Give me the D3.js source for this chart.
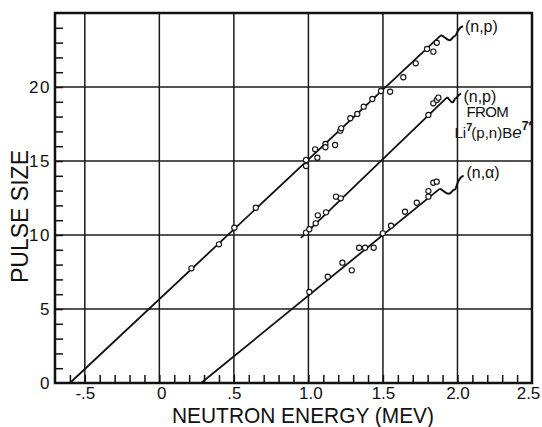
<!DOCTYPE html>
<html>
<head>
<meta charset="utf-8">
<script src="https://cdn.jsdelivr.net/npm/d3@7"></script>
<style>
  html, body { margin: 0; padding: 0; background: #fff; }
  svg { display: block; }
  text { font-family: "Liberation Sans", Arial, sans-serif; fill: #111; }
</style>
</head>
<body>
<svg id="chart" width="542" height="427"></svg>
<script>
// ---------- data ----------
const xTickValues = [-0.5, 0, 0.5, 1.0, 1.5, 2.0, 2.5];
const xTickLabels = ["-.5", "0", ".5", "1.0", "1.5", "2.0", "2.5"];
const yTickValues = [0, 5, 10, 15, 20];
const yTickLabels = ["0", "5", "10", "15", "20"];

// (n,p) points
const npX = [0.215, 0.40, 0.503, 0.647, 0.984, 0.984, 1.045, 1.06, 1.114, 1.114, 1.179, 1.214, 1.22, 1.281, 1.328, 1.371, 1.429, 1.487, 1.548, 1.637, 1.72, 1.796, 1.838, 1.861];
const npY = [7.75, 9.37, 10.49, 11.84, 15.07, 14.66, 15.79, 15.22, 16.15, 15.93, 16.08, 17.05, 17.21, 17.89, 18.18, 18.67, 19.19, 19.73, 19.68, 20.66, 21.6, 22.57, 22.39, 22.99];

// (n,p) from Li7(p,n)Be7* points
const liX = [0.984, 1.006, 1.049, 1.063, 1.118, 1.185, 1.217, 1.805, 1.838, 1.861, 1.872];
const liY = [10.16, 10.39, 10.79, 11.33, 11.53, 12.59, 12.48, 18.11, 18.9, 19.12, 19.28];

// (n,alpha) points
const naX = [1.006, 1.13, 1.228, 1.291, 1.34, 1.38, 1.438, 1.499, 1.554, 1.648, 1.727, 1.805, 1.805, 1.838, 1.861];
const naY = [6.15, 7.18, 8.13, 7.61, 9.14, 9.14, 9.14, 10.11, 10.63, 11.57, 12.18, 12.59, 12.97, 13.53, 13.6];

// fitted straight lines [x0, y0, x1, y1]
const npLine = [-0.6, 0, 1.89, 23.5];
const liLine = [0.95, 9.8, 1.93, 19.3];
const naLine = [0.28, 0, 1.88, 13.12];

// ---------- layout ----------
const svg = d3.select("#chart");
const L = 55, R = 532, T = 13, B = 383;
const x = d3.scaleLinear().domain([-0.7, 2.5]).range([L, R]);
const y = d3.scaleLinear().domain([0, 25]).range([B, T]);

svg.append("rect").attr("width", 542).attr("height", 427).attr("fill", "#fff");

// grid lines
svg.append("g")
  .selectAll("line").data(xTickValues.filter(v => v > -0.7 && v < 2.5))
  .join("line")
  .attr("x1", d => x(d)).attr("x2", d => x(d))
  .attr("y1", T).attr("y2", B)
  .attr("stroke", "#1a1a1a").attr("stroke-width", 1.5);
svg.append("g")
  .selectAll("line").data(yTickValues.filter(v => v > 0))
  .join("line")
  .attr("x1", L).attr("x2", R)
  .attr("y1", d => y(d)).attr("y2", d => y(d))
  .attr("stroke", "#1a1a1a").attr("stroke-width", 1.5);

// minor ticks (inside)
const xMinor = d3.range(-6, 25).map(i => i / 10);
const yMinor = d3.range(1, 25);
svg.append("g").attr("transform", `translate(0,${B})`)
  .call(d3.axisBottom(x).tickValues(xMinor).tickSize(-8).tickFormat(""))
  .call(g => g.select(".domain").remove())
  .call(g => g.selectAll("line").attr("stroke", "#111").attr("stroke-width", 1.5));
svg.append("g").attr("transform", `translate(${L},0)`)
  .call(d3.axisLeft(y).tickValues(yMinor).tickSize(-8).tickFormat(""))
  .call(g => g.select(".domain").remove())
  .call(g => g.selectAll("line").attr("stroke", "#111").attr("stroke-width", 1.5));

// tick labels
svg.append("g").attr("transform", `translate(0,${B})`)
  .call(d3.axisBottom(x).tickValues(xTickValues).tickSize(0).tickPadding(4)
        .tickFormat((d, i) => xTickLabels[i]))
  .call(g => g.select(".domain").remove())
  .call(g => g.selectAll("text").attr("font-size", 17)
        .attr("font-family", "'Liberation Sans', Arial, sans-serif").attr("fill", "#111")
        .attr("dx", d => d === 2.5 ? -4 : (d === 0 || d === 1.0 ? 2 : 0)));
svg.append("g").attr("transform", `translate(${L},0)`)
  .call(d3.axisLeft(y).tickValues(yTickValues).tickSize(0).tickPadding(4)
        .tickFormat((d, i) => yTickLabels[i]))
  .call(g => g.select(".domain").remove())
  .call(g => g.selectAll("text").attr("font-size", 17).attr("letter-spacing", 1.5)
        .attr("font-family", "'Liberation Sans', Arial, sans-serif").attr("fill", "#111"));

// frame
svg.append("rect").attr("x", L).attr("y", T).attr("width", R - L).attr("height", B - T)
  .attr("fill", "none").attr("stroke", "#111").attr("stroke-width", 2.5);

// fit lines
[npLine, liLine, naLine].forEach(l => {
  svg.append("line")
    .attr("x1", x(l[0])).attr("y1", y(l[1]))
    .attr("x2", x(l[2])).attr("y2", y(l[3]))
    .attr("stroke", "#111").attr("stroke-width", 1.8);
});

// squiggle leaders from line ends to labels
function squiggle(x0, y0, x1, y1) {
  const p = d3.path();
  const dx = x1 - x0;
  p.moveTo(x0, y0);
  p.bezierCurveTo(x0 + dx * 0.15, y0 + 1, x0 + dx * 0.25, y0 + 5, x0 + dx * 0.38, y0 + 5);
  p.bezierCurveTo(x0 + dx * 0.5, y0 + 5, x0 + dx * 0.52, y0 + 1, x0 + dx * 0.62, y0 + 1);
  p.bezierCurveTo(x0 + dx * 0.72, y0 + 1, x0 + dx * 0.7, y1 + 2, x1, y1);
  return p.toString();
}
const leaders = [
  { line: npLine, ox: 22, oy: -9 },
  { line: liLine, ox: 14, oy: -4 },
  { line: naLine, ox: 24, oy: -13 }
];
leaders.forEach(d => {
  const x0 = x(d.line[2]), y0 = y(d.line[3]);
  svg.append("path").attr("d", squiggle(x0, y0, x0 + d.ox, y0 + d.oy))
    .attr("fill", "none").attr("stroke", "#111").attr("stroke-width", 2);
});

// data points
function drawPts(xs, ys) {
  svg.append("g").selectAll("circle").data(xs.map((v, i) => [v, ys[i]]))
    .join("circle")
    .attr("cx", d => x(d[0])).attr("cy", d => y(d[1])).attr("r", 2.6)
    .attr("fill", "#fff").attr("stroke", "#111").attr("stroke-width", 1.1);
}
drawPts(npX, npY);
drawPts(liX, liY);
drawPts(naX, naY);

// annotations
const ann = svg.append("g").attr("font-size", 16);
ann.append("text").attr("x", x(2.05)).attr("y", y(23.75)).text("(n,p)");
ann.append("text").attr("x", x(2.04)).attr("y", y(19.0)).text("(n,p)");
ann.append("text").attr("x", x(2.06)).attr("y", y(17.95)).attr("font-size", 15)
  .attr("letter-spacing", -0.6).text("FROM");
const li = ann.append("text").attr("x", x(1.98)).attr("y", y(16.55)).attr("font-size", 15);
li.append("tspan").text("Li");
li.append("tspan").attr("dy", -7).attr("font-size", 11).attr("font-weight", "bold").text("7");
li.append("tspan").attr("dy", 7).attr("dx", -1).text("(p,n)B");
li.append("tspan").attr("font-style", "italic").attr("font-size", 17).text("e");
li.append("tspan").attr("dy", -8).attr("font-size", 12).attr("font-weight", "bold").text("7*");
ann.append("text").attr("x", x(2.06)).attr("y", y(13.85)).text("(n,α)");

// axis titles
svg.append("text").attr("x", 172).attr("y", 423).attr("font-size", 22)
  .attr("textLength", 262).attr("lengthAdjust", "spacingAndGlyphs")
  .text("NEUTRON ENERGY (MEV)");
svg.append("text").attr("transform", "translate(28,283) rotate(-90)")
  .attr("font-size", 24).attr("textLength", 133).attr("lengthAdjust", "spacingAndGlyphs")
  .text("PULSE SIZE");
</script>
</body>
</html>
